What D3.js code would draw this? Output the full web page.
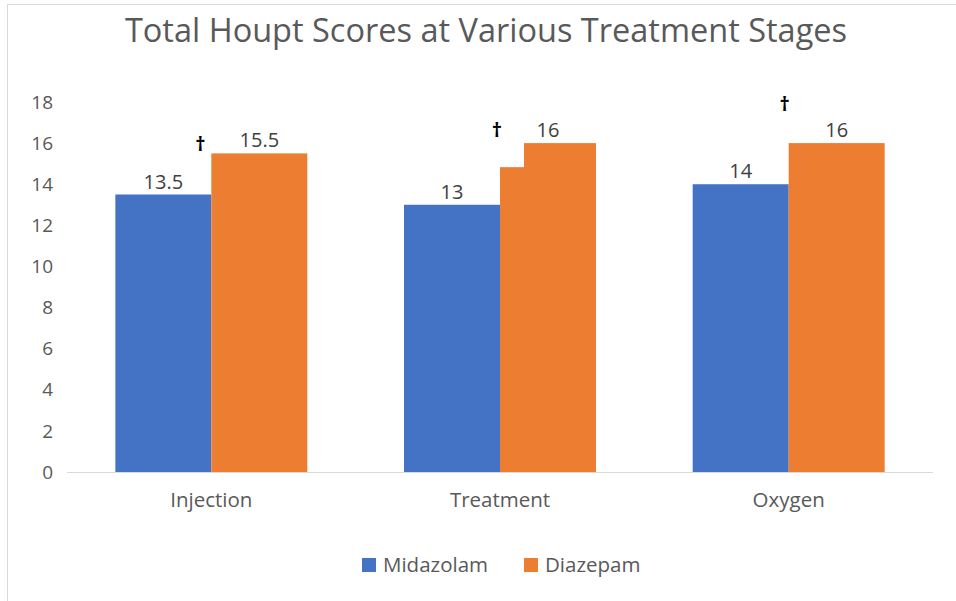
<!DOCTYPE html>
<html>
<head>
<meta charset="utf-8">
<script src="https://cdn.jsdelivr.net/npm/d3@7"></script>
<style>
  body { margin: 0; background: #fff; }
  text { font-family: "Open Sans", "Liberation Sans", sans-serif; }
</style>
</head>
<body>
<svg id="chart"></svg>
<script>
const stages = ["Injection", "Treatment", "Oxygen"];
const groups = ["Midazolam", "Diazepam"];
const midazolam = [13.5, 13, 14];
const diazepam = [15.5, 16, 16];
const yTicks = [0, 2, 4, 6, 8, 10, 12, 14, 16, 18];
// dagger marks (significance) placed by value, shifted left of group centre
const daggerValue = [16.0, 16.7, 17.95];
const daggerShift = [-11, -3, -4];

const colors = { Midazolam: "#4472c4", Diazepam: "#ed7d31" };

const W = 956, H = 601;
const svg = d3.select("#chart").attr("width", W).attr("height", H);

// outer frame
svg.append("rect")
  .attr("x", 7.5).attr("y", 4.5)
  .attr("width", W).attr("height", H)
  .attr("fill", "#fff")
  .attr("stroke", "#d9d9d9");

const plotLeft = 67, plotRight = 933, plotTop = 102, plotBottom = 472;

const x0 = d3.scaleBand().domain(stages).range([plotLeft, plotRight])
  .paddingInner(0.335).paddingOuter(0.1675);
const x1 = d3.scaleBand().domain(groups).range([0, x0.bandwidth()]);
const y = d3.scaleLinear().domain([0, 18]).range([plotBottom, plotTop]);

const rows = stages.map((s, i) => ({
  stage: s,
  vals: [{ g: "Midazolam", v: midazolam[i] }, { g: "Diazepam", v: diazepam[i] }]
}));

const g = svg.selectAll(".grp").data(rows).enter().append("g")
  .attr("transform", d => `translate(${x0(d.stage)},0)`);

g.selectAll("rect").data(d => d.vals).enter().append("rect")
  .attr("x", d => x1(d.g))
  .attr("y", d => y(d.v))
  .attr("width", x1.bandwidth())
  .attr("height", d => y(0) - y(d.v))
  .attr("fill", d => colors[d.g]);

g.selectAll(".lbl").data(d => d.vals).enter().append("text")
  .attr("x", d => x1(d.g) + x1.bandwidth() / 2)
  .attr("y", d => y(d.v) - 6)
  .attr("text-anchor", "middle")
  .attr("font-size", 20)
  .attr("fill", "#404040")
  .text(d => d.v);

// white notch covering top-left of Treatment / Diazepam bar (as in original)
svg.append("rect")
  .attr("x", x0("Treatment") + x1("Diazepam"))
  .attr("y", y(16) - 1)
  .attr("width", x1.bandwidth() * 0.25)
  .attr("height", y(14.83) - y(16) + 1)
  .attr("fill", "#fff");

// daggers
svg.selectAll(".dagger").data(stages).enter().append("text")
  .attr("x", (d, i) => x0(d) + x0.bandwidth() / 2 + daggerShift[i])
  .attr("y", (d, i) => y(daggerValue[i]) + 8)
  .attr("text-anchor", "middle")
  .attr("font-size", 20)
  .attr("font-weight", "bold")
  .attr("fill", "#000")
  .text("\u2020");

// x axis line
svg.append("line")
  .attr("x1", plotLeft).attr("x2", plotRight)
  .attr("y1", plotBottom + 0.5).attr("y2", plotBottom + 0.5)
  .attr("stroke", "#d9d9d9").attr("stroke-width", 1);

// y tick labels
svg.selectAll(".ytick").data(yTicks).enter().append("text")
  .attr("x", 53)
  .attr("y", d => y(d))
  .attr("dy", "0.35em")
  .attr("text-anchor", "end")
  .attr("font-size", 19)
  .attr("fill", "#595959")
  .text(d => d);

// category labels
svg.selectAll(".xlbl").data(stages).enter().append("text")
  .attr("x", d => x0(d) + x0.bandwidth() / 2)
  .attr("y", 507)
  .attr("text-anchor", "middle")
  .attr("font-size", 20.5)
  .attr("fill", "#595959")
  .text(d => d);

// title
svg.append("text")
  .attr("x", 486).attr("y", 42)
  .attr("text-anchor", "middle")
  .attr("font-size", 32.5)
  .attr("fill", "#595959")
  .text("Total Houpt Scores at Various Treatment Stages");

// legend
const legX = [362, 524];
const leg = svg.selectAll(".leg").data(groups).enter().append("g")
  .attr("transform", (d, i) => `translate(${legX[i]},558)`);
leg.append("rect").attr("width", 14).attr("height", 14)
  .attr("fill", d => colors[d]);
leg.append("text").attr("x", 21).attr("y", 7).attr("dy", "0.35em")
  .attr("font-size", 20.5).attr("fill", "#595959")
  .text(d => d);
</script>
</body>
</html>
